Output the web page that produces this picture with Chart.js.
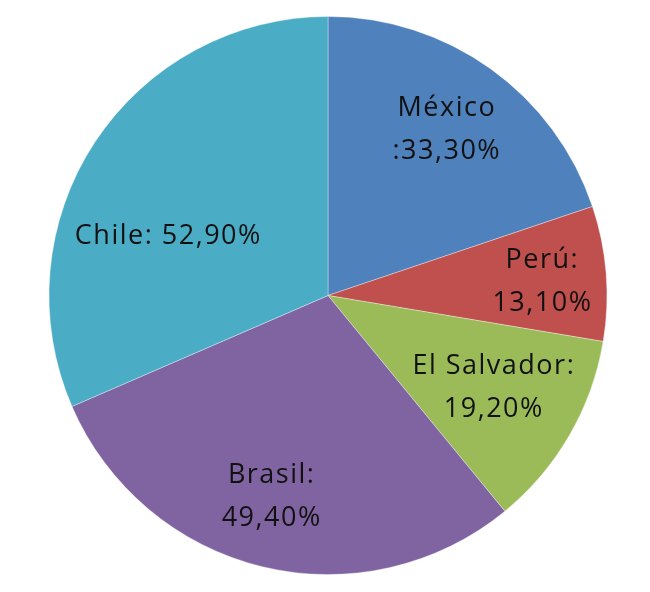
<!DOCTYPE html>
<html>
<head>
<meta charset="utf-8">
<script src="https://cdn.jsdelivr.net/npm/chart.js@4/dist/chart.umd.min.js"></script>
<style>
  html, body { margin: 0; padding: 0; background: #fff; }
  #wrap { width: 650px; height: 592px; }
</style>
</head>
<body>
<div id="wrap"><canvas id="pieChart"></canvas></div>
<script>
// ===============================
// DATA
// ===============================

const countries = ["México", "Perú", "El Salvador", "Brasil", "Chile"];

const percents = [33.3, 13.1, 19.2, 49.4, 52.9];

// label text as written on the chart (two lines or one)
const labelLines = [
    ["México", ":33,30%"],
    ["Perú:", "13,10%"],
    ["El Salvador:", "19,20%"],
    ["Brasil:", "49,40%"],
    ["Chile: 52,90%"]
];

const colors = ["#4F81BD", "#C0504D", "#9BBB59", "#8064A2", "#4BACC6"];

// where each label sits: fraction of radius, angle shift in degrees
const labelPlace = [
    [0.73, 0],
    [0.77, 1],
    [0.68, -1],
    [0.75, 2],
    [0.61, -13]
];

// ===============================
// LABEL PLUGIN
// ===============================

const sliceLabels = {
    id: "sliceLabels",
    afterDatasetsDraw(chart) {
        const c = chart.ctx;
        const meta = chart.getDatasetMeta(0);
        c.save();
        c.font = "27px 'Open Sans', sans-serif";
        c.letterSpacing = "1.5px";
        c.fillStyle = "#111111";
        c.textAlign = "center";
        c.textBaseline = "middle";
        meta.data.forEach((arc, i) => {
            const p = arc.getProps(["x", "y", "startAngle", "endAngle", "outerRadius"], true);
            const mid = (p.startAngle + p.endAngle) / 2 + labelPlace[i][1] * Math.PI / 180;
            const r = p.outerRadius * labelPlace[i][0];
            const x = p.x + Math.cos(mid) * r;
            const y = p.y + Math.sin(mid) * r;
            const lines = labelLines[i];
            const lh = 43;
            lines.forEach((t, k) => {
                c.fillText(t, x, y + (k - (lines.length - 1) / 2) * lh);
            });
        });
        c.restore();
    }
};

// ===============================
// CHART
// ===============================

const ctx = document.getElementById("pieChart").getContext("2d");

new Chart(ctx, {
    type: "pie",
    data: {
        labels: countries,
        datasets: [{
            data: percents,
            backgroundColor: colors,
            borderColor: "rgba(255,255,255,0.35)",
            borderWidth: 1
        }]
    },
    options: {
        responsive: true,
        maintainAspectRatio: false,
        animation: false,
        layout: {
            padding: { top: 16, bottom: 17, left: 6, right: 0 }
        },
        plugins: {
            legend: { display: false },
            tooltip: { enabled: false }
        }
    },
    plugins: [sliceLabels]
});
</script>
</body>
</html>
